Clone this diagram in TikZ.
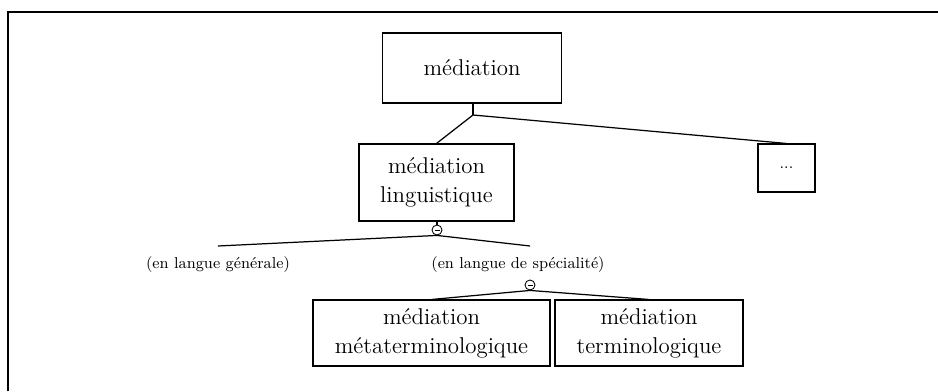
\documentclass[tikz,border=0pt]{standalone}
\usepackage{amsmath}
\usepackage{tikz}

\begin{document}
\begin{tikzpicture}[x=1cm, y=1cm,
    every node/.style={font=\fontsize{13}{16.5}\selectfont},
    box/.style={draw, line width=0.6pt, align=center, inner sep=2pt},
    minus/.style={circle, draw, line width=0.5pt, inner sep=0pt, minimum size=0.2cm,
        path picture={\draw[line width=0.45pt] ([xshift=-0.05cm]path picture bounding box.center) -- ([xshift=0.05cm]path picture bounding box.center);}},
    branch/.style={line width=0.7pt},
    small/.style={font=\fontsize{9}{11}\selectfont}]
    \useasboundingbox (0,0) rectangle (18.76,7.82);

    % frame
    \coordinate (fa) at (0.16,0);
    \coordinate (fb) at (0.16,7.58);
    \coordinate (fc) at (18.76,7.58);
    \draw[line width=1.4pt] (fa) -- (fb) -- (fc);

    % boxes
    \node[box, minimum width=3.58cm, minimum height=1.4cm] (med) at (9.44,6.46) {médiation};
    \node[box, minimum width=3.1cm, minimum height=1.54cm] (ling) at (8.73,4.17) {médiation\\linguistique};
    \node[box, minimum width=1.14cm, minimum height=0.96cm, small] (etc) at (15.73,4.46) {...};
    \node[box, minimum width=4.74cm, minimum height=1.32cm] (meta) at (8.63,1.16) {médiation\\métaterminologique};
    \node[box, minimum width=3.76cm, minimum height=1.32cm] (term) at (12.98,1.16) {médiation\\terminologique};

    % circles
    \node[minus] (ca) at (8.74,3.22) {};
    \node[minus] (cb) at (10.6,2.12) {};

    % branch ends and labels
    \coordinate (j) at (9.46,5.52);
    \coordinate (gen) at (4.36,2.90);
    \coordinate (spe) at (10.6,2.90);
    \node[small] (lgen) at (4.36,2.52) {(en langue générale)};
    \node[small] (lspe) at (10.36,2.52) {(en langue de spécialité)};

    % edges
    \draw[branch] (med.south -| j) -- (j);
    \draw[branch] (j) -- (ling.north);
    \draw[branch] (j) -- (etc.north);
    \draw[branch] (ling.south -| ca) -- (ca.north);
    \draw[branch] (ca.south) -- (gen);
    \draw[branch] (ca.south) -- (spe);
    \draw[branch] (cb.south) -- (meta.north);
    \draw[branch] (cb.south) -- (term.north);

\end{tikzpicture}
\end{document}
